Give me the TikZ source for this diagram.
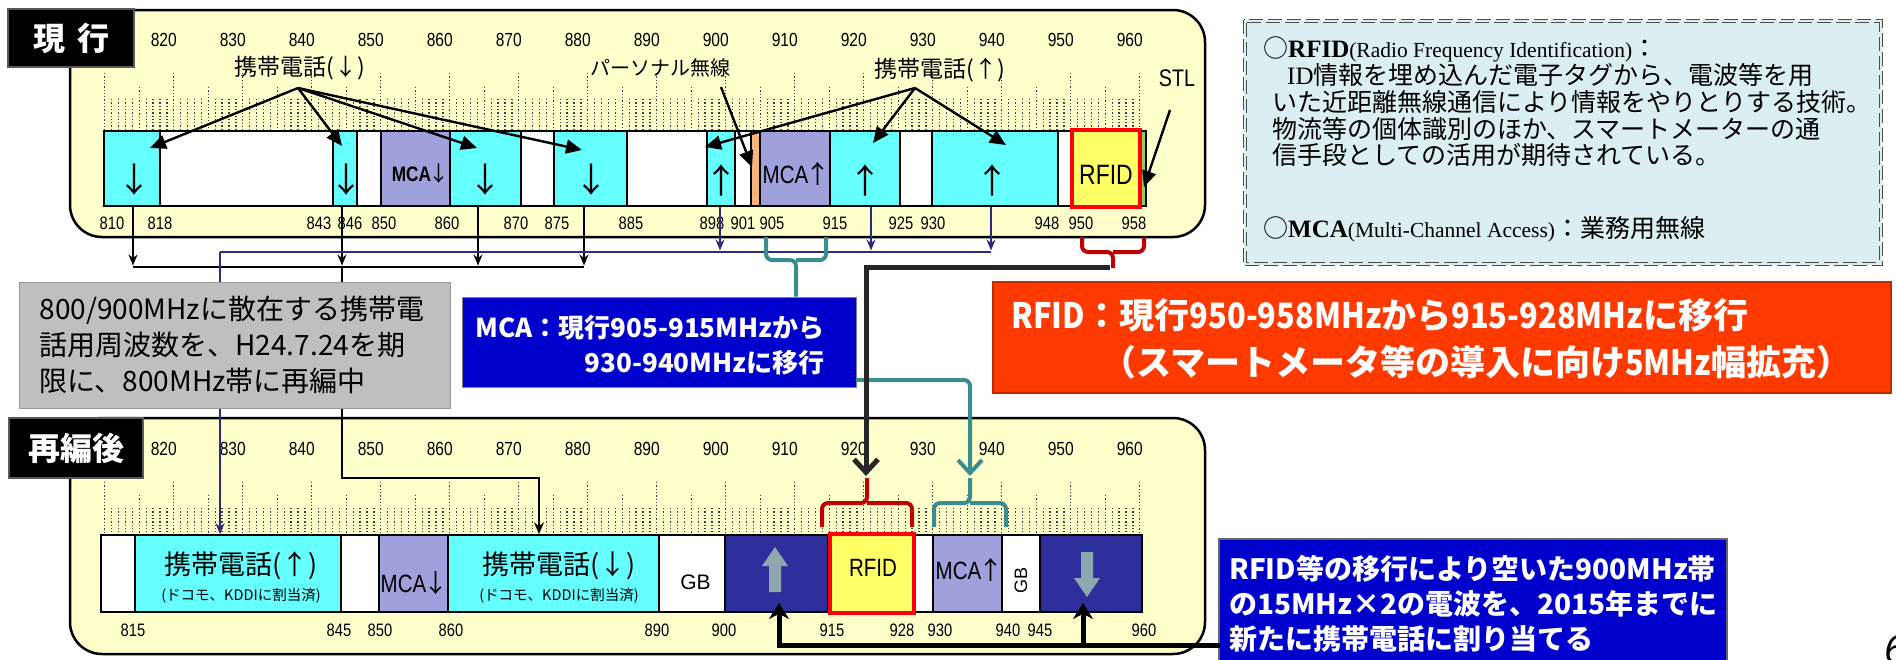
\documentclass[tikz,border=0pt]{standalone}
\usepackage{fontspec}
\setmainfont{Liberation Sans}
\newfontfamily\jp{Noto Sans CJK JP}
\newfontfamily\jn[FakeStretch=0.88]{Noto Sans CJK JP}
\newfontfamily\nar[FakeStretch=0.82]{Liberation Sans}
\newfontfamily\srf{Liberation Serif}
\usetikzlibrary{arrows.meta}
\definecolor{panel}{HTML}{FFFFCC}
\definecolor{cy}{HTML}{66FFFF}
\definecolor{mca}{HTML}{A0A0DC}
\definecolor{orn}{HTML}{FAB27E}
\definecolor{rfidy}{HTML}{FFFF66}
\definecolor{stl}{HTML}{92D050}
\definecolor{dkb}{HTML}{2E2E9C}
\definecolor{arrg}{HTML}{8EA7AF}
\definecolor{grayb}{HTML}{BFBFBF}
\definecolor{blu}{HTML}{0000CC}
\definecolor{org}{HTML}{FF3A00}
\definecolor{info}{HTML}{DBEEF2}
\definecolor{navyc}{HTML}{2B2B80}
\definecolor{tl}{HTML}{3A8C8E}
\definecolor{dred}{HTML}{C00000}
\definecolor{dk}{HTML}{262626}
\pgfmathdeclarefunction{fq}{1}{\pgfmathparse{6.9*#1-5484.2}}
\newcommand\bandT[4]{\node[bandbox,fill=#4,minimum width={#3-#2},minimum height=75pt] (#1) at ({(#2+#3)/2},168.5) {};}
\newcommand\bandB[4]{\node[bandbox,fill=#4,minimum width={#3-#2},minimum height=77pt] (#1) at ({(#2+#3)/2},573.5) {};}
\newcommand\ser{\srf\fontsize{21.5}{26.7}\selectfont}
\newcommand\serb{\srf\bfseries\fontsize{25}{26.7}\selectfont}
\newcommand\ja[1]{{\jp\mdseries\kern-3pt#1\kern-3pt}}
\begin{document}
\begin{tikzpicture}[x=1pt,y=-1pt,
  bandbox/.style={draw=black,line width=1.5pt,inner sep=0pt},
  panelbox/.style={draw=black,line width=2.5pt,fill=panel,rounded corners=32pt,inner sep=0pt},
  tagbox/.style={fill=black,draw=black!65,line width=2.5pt,text=white,font=\jp\bfseries\fontsize{32}{32}\selectfont,inner sep=0pt},
  scl/.style={font=\nar\fontsize{19}{19}\selectfont,inner sep=0pt},
  sclb/.style={font=\nar\fontsize{18}{18}\selectfont,inner sep=0pt},
  gridl/.style={line width=1.3pt,dash pattern=on 1.3pt off 2pt,black!75},
  anno/.style={draw=black,line width=2.4pt,-{Triangle[length=16pt,width=14pt]}},
  jlab/.style={font=\jp\fontsize{23}{23}\selectfont,inner sep=0pt},
  bigar/.style={font=\jp\fontsize{34}{34}\selectfont,inner sep=0pt},
  bandtxt/.style={font=\nar\fontsize{25}{25}\selectfont,inner sep=0pt},
  busarr/.style={draw=black,line width=1.6pt,-{Stealth[length=11pt,width=9pt]}},
  navyarr/.style={draw=navyc,line width=1.6pt,-{Stealth[length=11pt,width=9pt]}},
  tealbr/.style={draw=tl,line width=4pt,rounded corners=6pt},
  redbr/.style={draw=dred,line width=4pt,rounded corners=6pt},
  dkarr/.style={draw=dk,line width=5pt,-{Straight Barb[length=13pt,width=24pt]}},
  blkarr/.style={draw=black,line width=5pt,-{Stealth[length=16pt,width=20pt]}},
  blockar/.style={fill=arrg,draw=none}
]
\useasboundingbox (0,0) rectangle (1896,659);
% panels
\node[panelbox,minimum width=1135pt,minimum height=227pt] (P1) at (637.5,123.5) {};
\node[panelbox,minimum width=1135pt,minimum height=236pt] (P2) at (637.5,536) {};
% grids
\foreach \f in {810,...,960}{
  \pgfmathtruncatemacro\m{mod(\f,10)}
  \pgfmathsetmacro\ya{\m==0?73:(\m==5?87:99)}
  \pgfmathsetmacro\yb{\m==0?482:(\m==5?495:508)}
  \draw[gridl] ({fq(\f)},\ya) -- ({fq(\f)},131);
  \draw[gridl] ({fq(\f)},\yb) -- ({fq(\f)},535);
}
% scale labels
\foreach \f in {820,830,...,960}{
  \node[scl] (ta\f) at ({fq(\f)-10},40) {\f};
  \node[scl] (ba\f) at ({fq(\f)-10},449) {\f};
}
\foreach \v/\x in {810/112,818/160,843/319,846/350,850/384,860/447,870/516,875/557,885/631,898/712,901/743,905/772,915/835,925/901,930/933,948/1047,950/1081,958/1134}
  {\node[sclb] (tb\v) at (\x,223) {\v};}
\foreach \v/\x in {815/133,845/339,850/380,860/451,890/657,900/724,915/832,928/902,930/940,940/1008,945/1040,960/1144}
  {\node[sclb] (bb\v) at (\x,630) {\v};}
% top bands
\bandT{t1}{104}{160}{cy}
\bandT{t2}{160}{333}{white}
\bandT{t3}{333}{357}{cy}
\bandT{t4}{357}{381}{white}
\bandT{t5}{381}{450}{mca}
\bandT{t6}{450}{521}{cy}
\bandT{t7}{521}{554}{white}
\bandT{t8}{554}{627}{cy}
\bandT{t9}{627}{707}{white}
\bandT{t10}{707}{735}{cy}
\bandT{t11}{735}{751}{white}
\bandT{t12}{751}{760}{orn}
\bandT{t13}{760}{830}{mca}
\bandT{t14}{830}{900}{cy}
\bandT{t15}{900}{932}{white}
\bandT{t16}{932}{1058}{cy}
\bandT{t17}{1058}{1071}{white}
\bandT{t19}{1141}{1146}{stl}
\node[bandbox,fill=rfidy,draw=red,line width=4pt,minimum width=68pt,minimum height=77pt] (t18) at (1106,168.5) {};
% top band texts
\node[bigar] (a1) at (134.7,180) {↓};
\node[bigar] (a3) at (346,180) {↓};
\node[bigar] (a6) at (485,180) {↓};
\node[bigar] (a8) at (591,180) {↓};
\node[bigar] (a10) at (721,180) {↑};
\node[bigar] (a14) at (865,180) {↑};
\node[bigar] (a16) at (992,180) {↑};
\node[font=\nar\bfseries\fontsize{21}{21}\selectfont,inner sep=0pt] (m1) at (419,174) {MCA\ja{↓}};
\node[bandtxt] (m2) at (795,174) {MCA\ja{↑}};
\node[font=\nar\fontsize{28}{28}\selectfont,inner sep=0pt] (r1) at (1106,175) {RFID};
% bottom bands
\bandB{b1}{101}{135}{white}
\bandB{b2}{135}{341}{cy}
\bandB{b3}{341}{379}{white}
\bandB{b4}{379}{448}{mca}
\bandB{b5}{448}{659}{cy}
\bandB{b6}{659}{725}{white}
\bandB{b7}{725}{828}{dkb}
\bandB{b9}{915}{933}{white}
\bandB{b10}{933}{1002}{mca}
\bandB{b11}{1002}{1040}{white}
\bandB{b12}{1040}{1142}{dkb}
\node[bandbox,fill=rfidy,draw=red,line width=4pt,minimum width=84pt,minimum height=79pt] (b8) at (871.5,573.5) {};
% bottom band texts
\node[font=\jp\fontsize{27}{27}\selectfont,inner sep=0pt] (kt1) at (241,566) {携帯電話(↑)};
\node[font=\jp\fontsize{14.5}{14.5}\selectfont,inner sep=0pt] (ks1) at (241,596) {(ドコモ、KDDIに割当済)};
\node[font=\jp\fontsize{27}{27}\selectfont,inner sep=0pt] (kt2) at (559,566) {携帯電話(↓)};
\node[font=\jp\fontsize{14.5}{14.5}\selectfont,inner sep=0pt] (ks2) at (559,596) {(ドコモ、KDDIに割当済)};
\node[bandtxt] (m3) at (413,583) {MCA\ja{↓}};
\node[font=\fontsize{21}{21}\selectfont,inner sep=0pt] (g1) at (695.5,582) {GB};
\node[bandtxt] (r2) at (873,568) {RFID};
\node[bandtxt] (m4) at (968,570) {MCA\ja{↑}};
\node[font=\fontsize{18}{18}\selectfont,inner sep=0pt,rotate=90] (g2) at (1021,580) {GB};
\fill[blockar] (775,547) -- (788,566) -- (781,566) -- (781,592) -- (769,592) -- (769,566) -- (762,566) -- cycle;
\fill[blockar] (1087,597) -- (1100,578) -- (1093,578) -- (1093,552) -- (1081,552) -- (1081,578) -- (1074,578) -- cycle;
% annotations top
\node[jlab] (kd) at (300,68) {携帯電話(↓)};
\node[font=\jp\fontsize{20}{20}\selectfont,inner sep=0pt] (pn) at (660,68) {パーソナル無線};
\node[jlab] (ku) at (940,70) {携帯電話(↑)};
\node[font=\nar\fontsize{24}{24}\selectfont,inner sep=0pt] (stlt) at (1177,78) {STL};
\coordinate (kdo) at (298,88);
\coordinate (kd1) at (150,148);
\coordinate (kd2) at (342,146);
\coordinate (kd3) at (477,148);
\coordinate (kd4) at (582,150);
\foreach \t in {kd1,kd2,kd3,kd4} \draw[anno] (kdo) -- (\t);
\coordinate (kuo) at (915,88);
\coordinate (ku1) at (705,147);
\coordinate (ku2) at (873,143);
\coordinate (ku3) at (1006,145);
\foreach \t in {ku1,ku2,ku3} \draw[anno] (kuo) -- (\t);
\coordinate (pno) at (721,87);
\coordinate (pn1) at (752,167);
\draw[anno] (pno) -- (pn1);
\coordinate (sto) at (1170,110);
\coordinate (st1) at (1144,187);
\draw[anno] (sto) -- (st1);
% tags
\node[tagbox,minimum width=126pt,minimum height=58pt] (L1) at (71,38) {現\hspace{12pt}行};
\node[tagbox,minimum width=134pt,minimum height=60pt] (L2) at (76,448) {再編後};
% info box
\node[fill=info,minimum width=638pt,minimum height=245pt,inner sep=0pt] (ib) at (1563,142.5) {};
\draw[dash pattern=on 14pt off 5pt,black!70,line width=1pt] (ib.north west) rectangle (ib.south east);
\draw[dash pattern=on 14pt off 5pt,black!70,line width=1pt] ([xshift=3pt,yshift=-3pt]ib.north west) rectangle ([xshift=-3pt,yshift=3pt]ib.south east);
\node[anchor=north west,align=left,inner sep=0pt,font=\jp\fontsize{25}{26.7}\selectfont] (it) at (1263,37)
 {○{\serb RFID}{\ser (Radio Frequency Identification)}：\\
  \hspace*{24pt}{\ser\fontsize{25}{26.7}\selectfont ID}情報を埋め込んだ電子タグから、電波等を用\\
  \hspace*{9pt}いた近距離無線通信により情報をやりとりする技術。\\
  \hspace*{9pt}物流等の個体識別のほか、スマートメーターの通\\
  \hspace*{9pt}信手段としての活用が期待されている。\\[46pt]
  ○{\serb MCA}{\ser (Multi-Channel Access)}：業務用無線};
% MCA box
\node[fill=blu,draw=black!50,line width=1pt,minimum width=394pt,minimum height=90pt,inner sep=0pt] (mcab) at (659,342) {};
\node[font=\jp\bfseries\fontsize{26}{35}\selectfont,text=white,align=right,inner sep=0pt] (mcat) at (650,345) {MCA：現行905-915MHzから\\930-940MHzに移行};
% orange box
\node[fill=org,draw=org!75!black,line width=1.5pt,minimum width=898pt,minimum height=111pt,inner sep=0pt] (orb) at (1442,337.5) {};
\node[font=\jp\bfseries\fontsize{35}{47}\selectfont,text=white,align=left,anchor=west,inner sep=0pt] (ort) at (1011,338.5)
 {{\jn RFID}：現行{\jn 950-958MHz}から{\jn 915-928MHz}に移行\\\hspace*{90pt}（スマートメータ等の導入に向け{\jn 5MHz}幅拡充）};
% bottom blue box
\node[fill=blu,draw=black!60,line width=1.5pt,minimum width=508pt,minimum height=140pt,inner sep=0pt] (rb) at (1473,609) {};
\node[font=\jp\bfseries\fontsize{28}{35}\selectfont,text=white,align=left,anchor=north west,inner sep=0pt] (rbt) at (1229,555) {RFID等の移行により空いた900MHz帯\\の15MHz×2の電波を、2015年までに\\新たに携帯電話に割り当てる};
% page number fragment
\node[font=\fontsize{40}{40}\selectfont\itshape,anchor=south west,inner sep=0pt] (pg) at (1884,664) {6};
% black bus
\coordinate (bus1) at (133,267);
\coordinate (bus2) at (342,267);
\coordinate (bus3) at (478,267);
\coordinate (bus4) at (584,267);
\foreach \i in {1,...,4} \draw[busarr] (bus\i |- t1.south) -- ([yshift=1.5pt]bus\i);
\draw[line width=2pt] (bus1) -- (bus4);
\coordinate (k1) at (539,478);
\draw[line width=2.4pt,-{Stealth[length=12pt,width=10pt]}] (bus2) |- (k1) -- (k1 |- b5.north);
% navy bus
\coordinate (nv0) at (220,252);
\coordinate (nv1) at (720,252);
\coordinate (nv2) at (871,252);
\coordinate (nv3) at (991,252);
\foreach \i in {1,2,3} \draw[navyarr] (nv\i |- t10.south) -- ([yshift=1.5pt]nv\i);
\draw[navyc,line width=2pt] (nv0) -- (nv3);
\draw[navyarr] (nv0) -- (nv0 |- b2.north);
% teal
\coordinate (tq1) at (766,237);
\coordinate (tq2) at (826,237);
\coordinate (tc) at (796,260);
\draw[tealbr] (tq1) |- (tc) -- (tc |- mcab.north);
\draw[tealbr] (tq2) |- (tc);
\coordinate (te0) at (856,380);
\coordinate (te1) at (970,476);
\draw[tealbr,-{Straight Barb[length=13pt,width=24pt]}] (te0) -| (te1);
\coordinate (tb0) at (970,478);
\coordinate (tbm) at (970,503);
\coordinate (tbl) at (934,527);
\coordinate (tbr) at (1006,527);
\draw[tealbr] (tb0) -- (tbm) -| (tbl);
\draw[tealbr] (tbm) -| (tbr);
% dark line and red braces
\coordinate (dk0) at (1110,267);
\coordinate (dk1) at (866,476);
\draw[dkarr] (dk0) -| (dk1);
\coordinate (rq1) at (1082,237);
\coordinate (rq2) at (1144,237);
\coordinate (rc) at (1113,252);
\coordinate (rc2) at (1113,268);
\draw[redbr] (rq1) |- (rc) -- (rc2);
\draw[redbr] (rq2) |- (rc);
\coordinate (rb0) at (867,478);
\coordinate (rbm) at (867,503);
\coordinate (rbl) at (822,527);
\coordinate (rbr) at (912,527);
\draw[redbr] (rb0) -- (rbm) -| (rbl);
\draw[redbr] (rbm) -| (rbr);
% bottom black arrows
\coordinate (bl0) at (1220,645);
\coordinate (bl1) at (779,603);
\coordinate (bl3) at (1083,645);
\coordinate (bl2) at (1083,603);
\draw[blkarr] (bl0) -| (bl1);
\draw[blkarr] (bl3) -- (bl2);
% gray box on top
\node[fill=grayb,draw=black!40,line width=1pt,minimum width=431pt,minimum height=126pt,inner sep=0pt,text width=390pt,align=left,font=\jp\fontsize{28}{36}\selectfont] (gray) at (234.5,345) {800/900MHzに散在する携帯電\\話用周波数を、H24.7.24を期\\限に、800MHz帯に再編中};
\end{tikzpicture}
\end{document}
